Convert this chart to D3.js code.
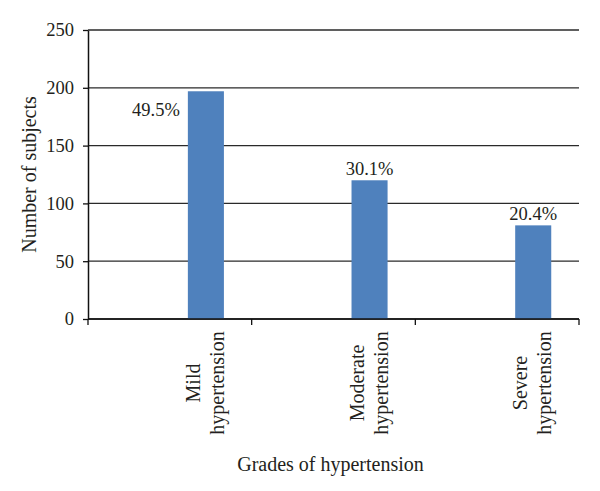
<!DOCTYPE html>
<html>
<head>
<meta charset="utf-8">
<script src="https://cdn.jsdelivr.net/npm/d3@7"></script>
<style>
  html, body { margin: 0; padding: 0; background: #fff; }
  svg { display: block; }
  text { font-family: "Liberation Serif", "DejaVu Serif", serif; fill: #231f20; }
</style>
</head>
<body>
<svg id="chart" width="600" height="491"></svg>
<script>
const categories = ["Mild hypertension", "Moderate hypertension", "Severe hypertension"];
const values = [197, 120, 81];
const percentLabels = ["49.5%", "30.1%", "20.4%"];
const yTicks = [0, 50, 100, 150, 200, 250];
const xTitle = "Grades of hypertension";
const yTitle = "Number of subjects";

const svg = d3.select("#chart");
const mLeft = 88, mRight = 579, mTop = 30, mBottom = 319;
const fs = 18.5;     // numbers
const fsw = 20;      // words

const x = d3.scaleBand().domain(categories).range([mLeft, mRight]).paddingInner(0).paddingOuter(0);
// three slots per category (Excel cluster), data series in the last slot
const slot = d3.scaleBand().domain([0, 1, 2]).range([0, x.bandwidth()]).paddingInner(0).paddingOuter(0.77);
const y = d3.scaleLinear().domain([0, 250]).range([mBottom, mTop]);

// gridlines
svg.append("g").selectAll("line").data(yTicks).join("line")
  .attr("x1", mLeft).attr("x2", mRight)
  .attr("y1", d => y(d)).attr("y2", d => y(d))
  .attr("stroke", "#2a2a2a").attr("stroke-width", 1.3);

// bars
const bars = categories.map((c, i) => ({c, v: values[i], p: percentLabels[i], i}));
svg.append("g").selectAll("rect").data(bars).join("rect")
  .attr("x", d => x(d.c) + slot(2))
  .attr("width", slot.bandwidth())
  .attr("y", d => y(d.v))
  .attr("height", d => y(0) - y(d.v))
  .attr("fill", "#4f81bd");

// y axis
const yAxis = svg.append("g").attr("transform", `translate(${mLeft},0)`)
  .call(d3.axisLeft(y).tickValues(yTicks).tickSize(5).tickPadding(9).tickSizeOuter(0));
yAxis.select(".domain").attr("stroke", "#111").attr("stroke-width", 1.5);
yAxis.selectAll(".tick line").attr("stroke", "#111").attr("stroke-width", 1.3);
yAxis.selectAll(".tick text").attr("font-size", fs).attr("font-family", "Liberation Serif").attr("fill", "#231f20");

// x axis line and ticks at category boundaries
svg.append("line").attr("x1", mLeft).attr("x2", mRight).attr("y1", y(0)).attr("y2", y(0))
  .attr("stroke", "#111").attr("stroke-width", 1.5);
const bounds = categories.map(c => x(c)).concat([x.range()[1]]);
svg.append("g").selectAll("line").data(bounds).join("line")
  .attr("x1", d => d).attr("x2", d => d)
  .attr("y1", y(0)).attr("y2", y(0) + 6)
  .attr("stroke", "#111").attr("stroke-width", 1.3);

// percentage labels
svg.append("g").selectAll("text").data(bars).join("text")
  .attr("font-size", fs)
  .attr("text-anchor", d => d.i === 0 ? "end" : "middle")
  .attr("x", d => d.i === 0 ? x(d.c) + slot(2) - 8 : x(d.c) + slot(2) + slot.bandwidth() / 2)
  .attr("y", d => d.i === 0 ? y(d.v) + 25 : y(d.v) - 5)
  .text(d => d.p);

// category labels (rotated, two lines)
const labelCenterY = 383;
bars.forEach(d => {
  const cx = x(d.c) + slot(2) + slot.bandwidth() / 2;
  const lines = d.c.split(" ");
  const t = svg.append("text")
    .attr("font-size", fsw)
    .attr("text-anchor", "middle")
    .attr("transform", `translate(${cx - 6},${labelCenterY}) rotate(-90)`);
  lines.forEach((ln, k) => {
    t.append("tspan").attr("x", 0).attr("dy", k === 0 ? 0 : "1.2em").text(ln);
  });
});

// axis titles
svg.append("text").attr("font-size", fsw).attr("text-anchor", "middle")
  .attr("x", (mLeft + mRight) / 2 - 3).attr("y", 471).text(xTitle);
svg.append("text").attr("font-size", fsw).attr("text-anchor", "middle")
  .attr("transform", `translate(36,${(mTop + mBottom) / 2}) rotate(-90)`).text(yTitle);
</script>
</body>
</html>
